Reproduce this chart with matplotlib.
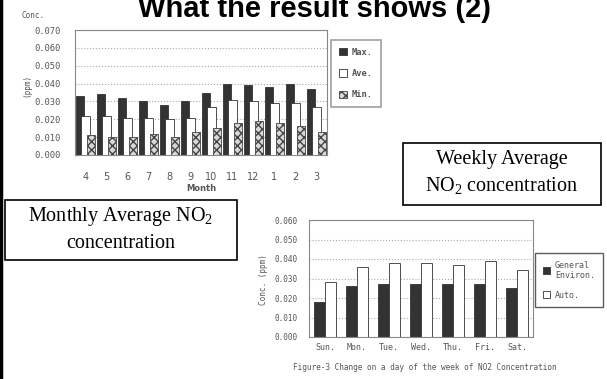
import matplotlib.pyplot as plt
from matplotlib.patches import Rectangle
from matplotlib.lines import Line2D
import numpy as np

plt.rcParams["mathtext.fontset"] = "custom"
plt.rcParams["mathtext.rm"] = "Liberation Serif"
plt.rcParams["mathtext.it"] = "Liberation Serif:italic"

# Monthly NO2 concentration (ppm)
months = ["4", "5", "6", "7", "8", "9", "10", "11", "12", "1", "2", "3"]
month_max = [0.033, 0.034, 0.032, 0.030, 0.028, 0.030, 0.035, 0.040, 0.039, 0.038, 0.040, 0.037]
month_ave = [0.022, 0.022, 0.021, 0.021, 0.020, 0.021, 0.027, 0.031, 0.030, 0.029, 0.029, 0.027]
month_min = [0.011, 0.010, 0.010, 0.012, 0.010, 0.013, 0.015, 0.018, 0.019, 0.018, 0.016, 0.013]

# Day-of-week NO2 concentration (ppm)
days = ["Sun.", "Mon.", "Tue.", "Wed.", "Thu.", "Fri.", "Sat."]
day_general = [0.018, 0.026, 0.027, 0.027, 0.027, 0.027, 0.025]
day_auto = [0.028, 0.036, 0.038, 0.038, 0.037, 0.039, 0.0345]

W, H = 607, 379
fig = plt.figure(figsize=(W / 100, H / 100), dpi=100)

def fx(px):
    return px / W

def fy(py):
    return 1 - py / H

tick_color = "#555555"
frame_color = "#888888"
small_font = dict(family="DejaVu Sans Mono", fontsize=5.5, color=tick_color)
top_font = dict(family="DejaVu Sans Mono", fontsize=6.3, color=tick_color)

# Title (cut off at top in the original slide)
fig.text(fx(314), fy(9), "What the result shows (2)", ha="center", va="center",
         fontsize=21, fontweight="bold", family="Liberation Sans")

# left black border of the slide
fig.add_artist(Line2D([fx(1.5), fx(1.5)], [0, 1], color="black", lw=2.5,
                      transform=fig.transFigure))

# ---- Monthly chart ----
ax1 = fig.add_axes([fx(75), fy(155), fx(327) - fx(75), fy(30) - fy(155)])
x = np.arange(len(months))
ax1.bar(x - 0.25, month_max, width=0.4, color="#333333", edgecolor="#333333", lw=0.6, zorder=2)
ax1.bar(x, month_ave, width=0.4, color="white", edgecolor="#333333", lw=0.6, zorder=3)
ax1.bar(x + 0.25, month_min, width=0.4, color="#d8d8d8", edgecolor="#444444", lw=0.6,
        hatch="xxxx", zorder=4)
ax1.set_xlim(-0.5, len(months) - 0.5)
ax1.set_ylim(0, 0.070)
ax1.set_yticks(np.arange(0, 0.0701, 0.01))
ax1.set_yticklabels(["%.3f" % v for v in np.arange(0, 0.0701, 0.01)], **top_font)
ax1.set_xticks(x)
ax1.set_xticklabels(months, family="DejaVu Sans", fontsize=7, color=tick_color)
ax1.tick_params(length=0, pad=10)
ax1.tick_params(axis="x", pad=12)
ax1.grid(axis="y", linestyle=":", color="#aaaaaa", lw=0.8, zorder=0)
for s in ax1.spines.values():
    s.set_color(frame_color)
ax1.set_xlabel("Month", family="DejaVu Sans", fontsize=6, color=tick_color,
               fontweight="bold", labelpad=2)
fig.text(fx(33), fy(16), "Conc.", **small_font, ha="center", va="center")
fig.text(fx(27), fy(85), "(ppm)", **small_font, ha="center", va="center", rotation=90)

leg1 = ax1.legend(["Max.", "Ave.", "Min."], loc="upper left",
                  bbox_to_anchor=(fx(331), fy(40)), bbox_transform=fig.transFigure,
                  prop=dict(family="DejaVu Sans Mono", size=6.3, weight="bold"),
                  fancybox=False, edgecolor=frame_color, handlelength=0.9,
                  handleheight=0.9, labelspacing=1.4, borderpad=0.9, handletextpad=0.6,
                  borderaxespad=0)
leg1.get_frame().set_linewidth(1.2)
for t in leg1.get_texts():
    t.set_color("#555555")

# ---- Weekly chart ----
ax2 = fig.add_axes([fx(309), fy(337), fx(533) - fx(309), fy(220) - fy(337)])
xd = np.arange(len(days))
ax2.bar(xd - 0.17, day_general, width=0.34, color="#333333", edgecolor="#333333", lw=0.6, zorder=2)
ax2.bar(xd + 0.17, day_auto, width=0.34, color="white", edgecolor="#333333", lw=0.6, zorder=2)
ax2.set_xlim(-0.5, len(days) - 0.5)
ax2.set_ylim(0, 0.060)
ax2.set_yticks(np.arange(0, 0.0601, 0.01))
ax2.set_yticklabels(["%.3f" % v for v in np.arange(0, 0.0601, 0.01)], **small_font)
ax2.set_xticks(xd)
ax2.set_xticklabels(days, family="DejaVu Sans Mono", fontsize=6, color=tick_color)
ax2.tick_params(length=0, pad=8)
ax2.tick_params(axis="x", pad=4)
ax2.grid(axis="y", linestyle=":", color="#aaaaaa", lw=0.8, zorder=0)
for s in ax2.spines.values():
    s.set_color(frame_color)
fig.text(fx(263), fy(280), "Conc. (ppm)", **small_font, ha="center", va="center", rotation=90)

leg2 = ax2.legend(["General\nEnviron.", "Auto."], loc="upper left",
                  bbox_to_anchor=(fx(535), fy(253)), bbox_transform=fig.transFigure,
                  prop=dict(family="DejaVu Sans Mono", size=6),
                  fancybox=False, edgecolor="#333333", handlelength=0.9,
                  handleheight=0.9, labelspacing=1.3, borderpad=0.9, handletextpad=0.6,
                  borderaxespad=0)
leg2.get_frame().set_linewidth(1.0)
for t in leg2.get_texts():
    t.set_color("#555555")

fig.text(fx(425), fy(367), "Figure-3 Change on a day of the week of NO2 Concentration",
         family="DejaVu Sans Mono", fontsize=5.6, color=tick_color, ha="center", va="center")

# ---- Text boxes ----
fig.add_artist(Rectangle((fx(5), fy(260)), fx(237) - fx(5), fy(200) - fy(260),
                         transform=fig.transFigure, facecolor="white",
                         edgecolor="black", lw=1.2))
fig.text(fx(121), fy(216), "Monthly Average NO$_2$", family="Liberation Serif",
         fontsize=14.5, ha="center", va="center")
fig.text(fx(121), fy(243), "concentration", family="Liberation Serif",
         fontsize=14.5, ha="center", va="center")

fig.add_artist(Rectangle((fx(403), fy(205)), fx(601) - fx(403), fy(143) - fy(205),
                         transform=fig.transFigure, facecolor="white",
                         edgecolor="black", lw=1.2))
fig.text(fx(502), fy(160), "Weekly Average", family="Liberation Serif",
         fontsize=14.5, ha="center", va="center")
fig.text(fx(502), fy(186), "NO$_2$ concentration", family="Liberation Serif",
         fontsize=14.5, ha="center", va="center")

fig.savefig("out.png", dpi=100)
